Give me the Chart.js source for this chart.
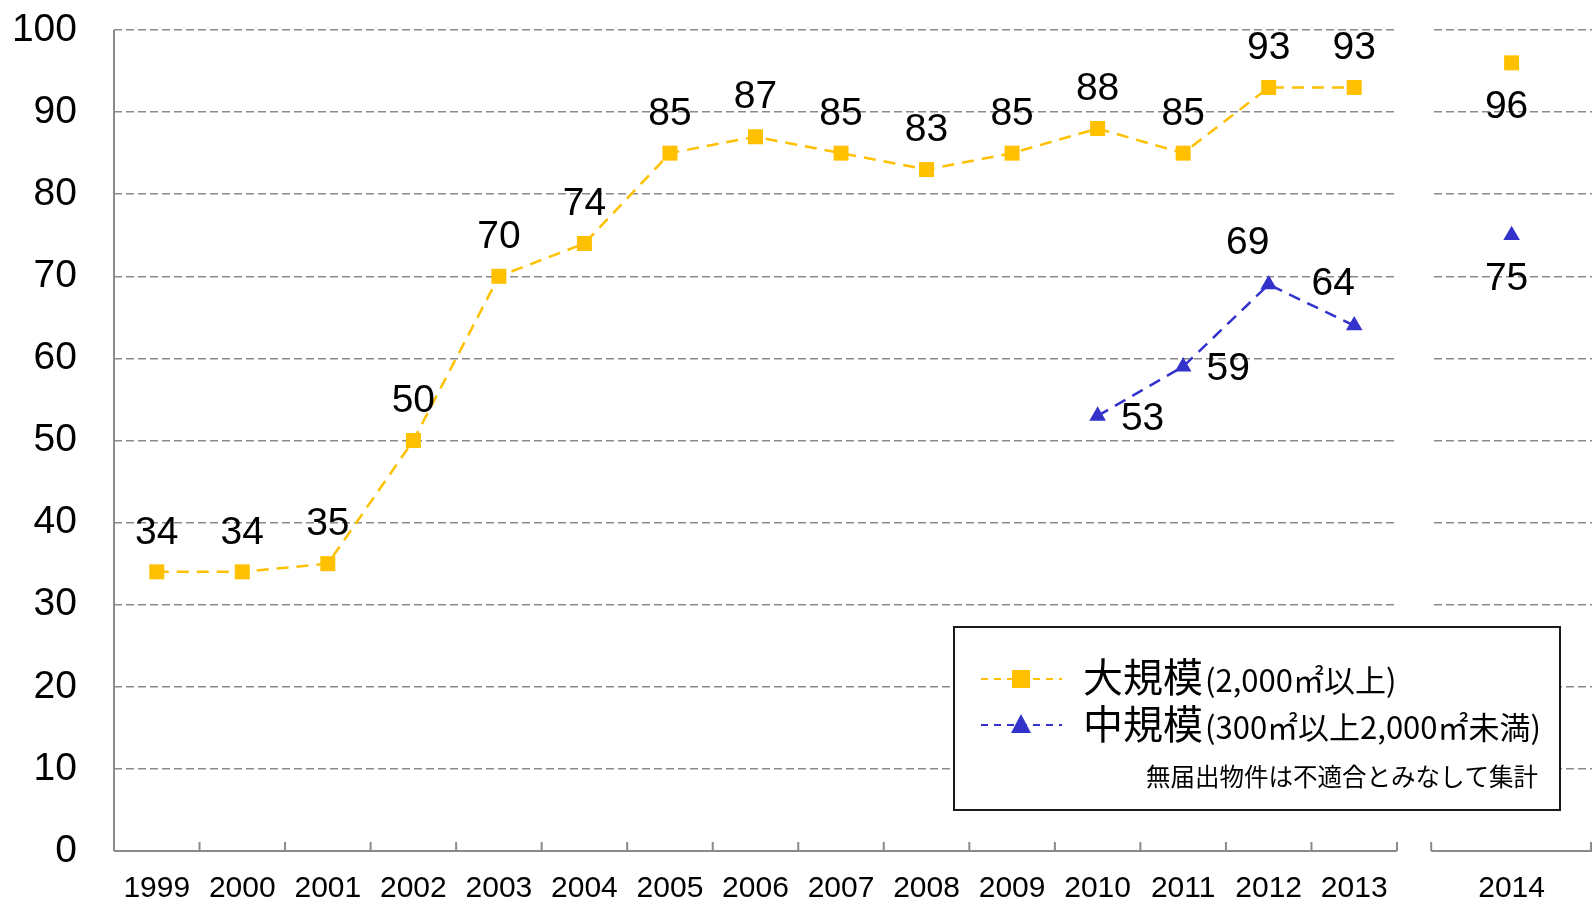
<!DOCTYPE html>
<html lang="ja">
<head>
<meta charset="utf-8">
<title>適合率の推移</title>
<script src="https://cdn.jsdelivr.net/npm/chart.js@4.4.1/dist/chart.umd.min.js"></script>
<style>
  html, body { margin: 0; padding: 0; background: #fff; }
  #wrap { width: 1596px; height: 913px; }
</style>
</head>
<body>
<div id="wrap"><canvas id="chart"></canvas></div>
<script>
const YEARS = ['1999', '2000', '2001', '2002', '2003', '2004', '2005', '2006', '2007',
               '2008', '2009', '2010', '2011', '2012', '2013', '2014'];
const LARGE = [34, 34, 35, 50, 70, 74, 85, 87, 85, 83, 85, 88, 85, 93, 93, 96];
const MEDIUM = [null, null, null, null, null, null, null, null, null, null, null,
                53, 59, 69, 64, 75];
const Y_TICKS = [0, 10, 20, 30, 40, 50, 60, 70, 80, 90, 100];

const SERIES_NAMES = ['大規模', '中規模'];
const SERIES_NOTES = ['(2,000㎡以上)', '(300㎡以上2,000㎡未満)'];
const LEGEND_NOTE = '無届出物件は不適合とみなして集計';

// where each value label sits relative to its point
const LARGE_LABEL_POS = ['above', 'above', 'above', 'above', 'above', 'above', 'above', 'above',
                         'above', 'above', 'above', 'above', 'above', 'above', 'above', 'below'];
const MEDIUM_LABEL_POS = [null, null, null, null, null, null, null, null, null, null, null,
                          'right', 'right', 'aboveLeft', 'aboveLeft', 'below'];

const ORANGE = '#FFC000';
const BLUE = '#3333CC';
const GRID = '#8a8a8a';
const FONT = '"Liberation Sans", Arial, sans-serif';
const CJK = '"Noto Sans CJK JP", "Noto Sans", sans-serif';

// broken x axis: 1999-2013 on one panel, 2014 on its own
const BREAK_AFTER = 14;
const GAP = 0.4;
const TAIL = 1.88;
const X_MAX = BREAK_AFTER + 0.5 + GAP + TAIL;

function xPos(i) {
    return i <= BREAK_AFTER ? i : BREAK_AFTER + 0.5 + GAP + TAIL / 2;
}

function points(values) {
    return values.map((v, i) => ({ x: xPos(i), y: v }));
}

const LABEL_OFFSETS = {
    above: [0, -39],
    below: [-5, 44],
    right: [45, 3],
    aboveLeft: [-21, -41]
};

const axisBreak = {
    id: 'axisBreak',
    beforeDatasetsDraw(chart) {
        const { ctx, chartArea: a, scales: { x } } = chart;
        const endA = x.getPixelForValue(BREAK_AFTER + 0.5);
        const startB = x.getPixelForValue(BREAK_AFTER + 0.5 + GAP);
        ctx.save();
        ctx.fillStyle = '#fff';
        ctx.fillRect(endA + 1, a.top - 3, startB - endA - 1, a.bottom - a.top + 6);

        ctx.strokeStyle = GRID;
        ctx.lineWidth = 2;
        ctx.beginPath();
        ctx.moveTo(a.left, a.top);
        ctx.lineTo(a.left, a.bottom);
        ctx.moveTo(a.left, a.bottom);
        ctx.lineTo(endA, a.bottom);
        ctx.moveTo(startB, a.bottom);
        ctx.lineTo(a.right, a.bottom);
        const ticks = [];
        for (let i = 0; i <= BREAK_AFTER; i++) ticks.push(x.getPixelForValue(i + 0.5));
        ticks.push(startB, a.right - 1);
        ticks.forEach(px => {
            ctx.moveTo(px, a.bottom);
            ctx.lineTo(px, a.bottom - 9);
        });
        ctx.stroke();
        ctx.restore();
    }
};

const valueLabels = {
    id: 'valueLabels',
    afterDatasetsDraw(chart) {
        const { ctx } = chart;
        const positions = [LARGE_LABEL_POS, MEDIUM_LABEL_POS];
        ctx.save();
        ctx.font = '39px ' + FONT;
        ctx.fillStyle = '#000';
        ctx.textAlign = 'center';
        ctx.textBaseline = 'middle';
        chart.data.datasets.forEach((ds, di) => {
            const meta = chart.getDatasetMeta(di);
            meta.data.forEach((pt, i) => {
                const v = ds.data[i].y;
                if (v === null) return;
                const [dx, dy] = LABEL_OFFSETS[positions[di][i]];
                ctx.fillText(String(v), pt.x + dx, pt.y + dy);
            });
        });
        ctx.restore();
    }
};

const legendBox = {
    id: 'legendBox',
    afterDraw(chart) {
        const { ctx } = chart;
        const box = { x: 954, y: 627, w: 606, h: 183 };
        ctx.save();
        ctx.fillStyle = '#fff';
        ctx.fillRect(box.x, box.y, box.w, box.h);
        ctx.strokeStyle = '#1a1a1a';
        ctx.lineWidth = 2;
        ctx.strokeRect(box.x, box.y, box.w, box.h);

        const rows = [
            { color: ORANGE, marker: 'rect', y: 679, base: 692 },
            { color: BLUE, marker: 'triangle', y: 725, base: 739 }
        ];
        rows.forEach((r, i) => {
            ctx.strokeStyle = r.color;
            ctx.lineWidth = 2;
            ctx.setLineDash([7, 6]);
            ctx.beginPath();
            ctx.moveTo(981, r.y);
            ctx.lineTo(1062, r.y);
            ctx.stroke();
            ctx.setLineDash([]);
            ctx.fillStyle = r.color;
            if (r.marker === 'rect') {
                ctx.fillRect(1012, r.y - 9, 18, 18);
            } else {
                ctx.beginPath();
                ctx.moveTo(1021, r.y - 11);
                ctx.lineTo(1031, r.y + 8);
                ctx.lineTo(1011, r.y + 8);
                ctx.closePath();
                ctx.fill();
            }
            ctx.fillStyle = '#000';
            ctx.textAlign = 'left';
            ctx.textBaseline = 'alphabetic';
            ctx.font = '40px ' + CJK;
            ctx.fillText(SERIES_NAMES[i], 1083, r.base);
            const w = ctx.measureText(SERIES_NAMES[i]).width;
            ctx.font = '31px ' + CJK;
            ctx.fillText(SERIES_NOTES[i], 1083 + w + 2, r.base);
        });

        ctx.font = '24.5px ' + CJK;
        ctx.textAlign = 'right';
        ctx.fillText(LEGEND_NOTE, 1538, 786);
        ctx.restore();
    }
};

new Chart(document.getElementById('chart'), {
    type: 'line',
    data: {
        datasets: [{
            label: SERIES_NAMES[0],
            data: points(LARGE),
            borderColor: ORANGE,
            borderWidth: 2.5,
            borderDash: [12, 8],
            pointStyle: 'rect',
            pointRadius: 10.6,
            pointBackgroundColor: ORANGE,
            pointBorderWidth: 0,
            segment: { borderColor: c => c.p1DataIndex > BREAK_AFTER ? 'rgba(0,0,0,0)' : ORANGE }
        }, {
            label: SERIES_NAMES[1],
            data: points(MEDIUM),
            borderColor: BLUE,
            borderWidth: 2.5,
            borderDash: [12, 8],
            pointStyle: 'triangle',
            pointRadius: 9.6,
            pointBackgroundColor: BLUE,
            pointBorderWidth: 0,
            segment: { borderColor: c => c.p1DataIndex > BREAK_AFTER ? 'rgba(0,0,0,0)' : BLUE }
        }]
    },
    options: {
        responsive: true,
        maintainAspectRatio: false,
        animation: false,
        events: [],
        layout: { autoPadding: false, padding: { top: 30, right: 4, left: 0, bottom: 0 } },
        plugins: { legend: { display: false }, tooltip: { enabled: false } },
        scales: {
            x: {
                type: 'linear',
                min: -0.5,
                max: X_MAX,
                afterBuildTicks: axis => { axis.ticks = YEARS.map((_, i) => ({ value: xPos(i) })); },
                afterFit: axis => {
                    axis.height = 62;
                    axis.paddingLeft = 0;
                    axis.paddingRight = 0;
                },
                ticks: {
                    autoSkip: false,
                    maxRotation: 0,
                    padding: 15,
                    color: '#000',
                    font: { family: FONT, size: 30, lineHeight: 1 },
                    callback: (value, index) => YEARS[index]
                },
                grid: { display: false },
                border: { display: false }
            },
            y: {
                min: 0,
                max: 100,
                afterBuildTicks: axis => { axis.ticks = Y_TICKS.map(v => ({ value: v })); },
                afterFit: axis => {
                    axis.width = 114;
                    axis.paddingTop = 0;
                    axis.paddingBottom = 0;
                },
                ticks: {
                    padding: 37,
                    color: '#000',
                    font: { family: FONT, size: 39, lineHeight: 1 }
                },
                grid: {
                    drawTicks: false,
                    lineWidth: 1.6,
                    color: c => c.tick && c.tick.value === 0 ? 'rgba(0,0,0,0)' : GRID
                },
                border: { display: false, dash: [8, 4] }
            }
        }
    },
    plugins: [axisBreak, valueLabels, legendBox]
});
</script>
</body>
</html>
